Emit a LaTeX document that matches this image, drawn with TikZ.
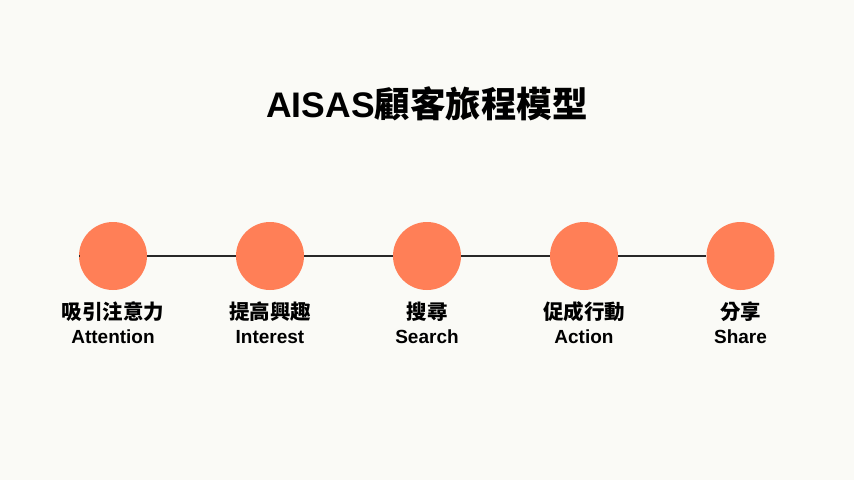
\documentclass[tikz,border=0pt]{standalone}
\usepackage{fontspec}
\setmainfont{Liberation Sans}
\newfontfamily\cjk{Noto Sans CJK TC}
\definecolor{bgc}{RGB}{250,250,246}
\definecolor{dotc}{RGB}{255,127,87}
\definecolor{linec}{RGB}{40,40,40}
\tikzset{
  stage/.style={circle,fill=dotc,minimum size=68pt,inner sep=0pt},
  zh/.style={font=\cjk\bfseries\fontsize{20.5}{23}\selectfont,inner sep=0pt,text=black},
  en/.style={font=\bfseries\fontsize{19}{22}\selectfont,inner sep=0pt,text=black},
  conn/.style={draw=linec,line width=1.2pt}
}
\begin{document}
\begin{tikzpicture}[x=1pt,y=-1pt]
\fill[bgc] (0,0) rectangle (854,480);
\useasboundingbox (0,0) rectangle (854,480);
\node[inner sep=0pt,anchor=center] (title) at (427,104)
  {\bfseries\fontsize{35.5}{40}\selectfont AISAS{\cjk\bfseries 顧客旅程模型}};
\coordinate (s) at (79,256);
\node[stage] (c1) at (113,256) {};
\node[stage] (c2) at (270,256) {};
\node[stage] (c3) at (427,256) {};
\node[stage] (c4) at (584,256) {};
\node[stage] (c5) at (740.5,256) {};
\draw[conn] (s) -- (c1.west);
\draw[conn] (c1.east) -- (c2.west);
\draw[conn] (c2.east) -- (c3.west);
\draw[conn] (c3.east) -- (c4.west);
\draw[conn] (c4.east) -- (c5.west);
\node[zh] (z1) at (113,312) {吸引注意力};
\node[zh] (z2) at (270,312) {提高興趣};
\node[zh] (z3) at (427,312) {搜尋};
\node[zh] (z4) at (584,312) {促成行動};
\node[zh] (z5) at (740.5,312) {分享};
\node[en] (e1) at (113,337) {Attention};
\node[en] (e2) at (270,337) {Interest};
\node[en] (e3) at (427,337) {Search};
\node[en] (e4) at (584,337) {Action};
\node[en] (e5) at (740.5,337) {Share};
\end{tikzpicture}
\end{document}
